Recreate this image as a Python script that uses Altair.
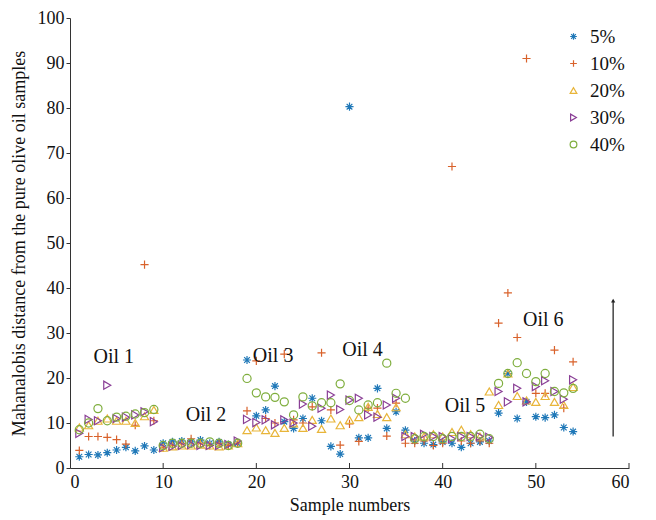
import altair as alt
import pandas as pd

samples = list(range(1, 55))
series_names = ["5%", "10%", "20%", "30%", "40%"]

v5 = [2.5, 3.0, 2.9, 3.4, 4.0, 4.6, 3.8, 4.9, 4.0,
      5.5, 5.8, 6.0, 5.8, 6.2, 5.5, 5.8, 5.2, 5.5,
      24.0, 11.6, 12.9, 18.2, 10.3, 8.8, 11.0, 15.5, 10.5,
      4.8, 3.1, 80.3, 6.7, 6.7, 17.7, 8.8, 12.5, 8.4,
      6.0, 5.5, 5.2, 5.8, 5.5, 4.6, 5.5, 5.8, 6.0,
      12.2, 21.0, 11.0, 14.7, 11.4, 11.2, 11.8, 9.0, 8.1]
v10 = [3.9, 7.0, 7.0, 6.8, 6.3, 5.3, 9.5, 45.2, 10.5,
       4.5, 5.0, 5.5, 6.5, 5.5, 5.0, 5.5, 5.0, 5.5,
       12.7, 23.8, 11.0, 10.0, 25.3, 10.7, 10.0, 13.6, 25.6,
       12.9, 5.1, 9.8, 5.9, 13.3, 13.3, 7.1, 14.4, 5.5,
       5.5, 6.0, 5.0, 5.5, 67.0, 6.0, 5.5, 6.0, 5.5,
       32.2, 38.9, 29.0, 91.0, 16.6, 16.6, 26.2, 13.3, 23.6]
v20 = [9.0, 9.5, 10.5, 11.0, 10.5, 10.5, 10.0, 11.5, 12.9,
       4.5, 4.8, 5.0, 5.0, 5.2, 5.0, 4.8, 5.0, 5.5,
       8.4, 9.0, 8.4, 7.8, 8.9, 9.9, 8.9, 10.7, 8.7,
       11.0, 9.5, 10.7, 11.3, 13.6, 12.0, 11.3, 13.5, 7.5,
       7.0, 7.0, 7.5, 7.0, 8.0, 8.5, 7.5, 7.0, 17.0,
       14.0, 21.0, 16.0, 15.0, 14.7, 16.0, 14.7, 14.0, 18.0]
v30 = [7.7, 10.8, 10.5, 18.4, 11.0, 11.3, 11.8, 12.5, 10.3,
       4.5, 4.8, 5.0, 5.2, 5.0, 5.0, 5.0, 5.2, 6.0,
       10.8, 10.1, 10.7, 9.6, 10.7, 10.0, 14.2, 9.3, 13.3,
       16.2, 13.0, 15.1, 15.5, 11.8, 11.3, 14.0, 15.5, 7.0,
       7.0, 7.5, 7.0, 7.0, 6.5, 7.0, 7.0, 7.0, 6.8,
       17.0, 14.7, 17.7, 14.7, 18.1, 19.4, 17.0, 15.3, 19.6]
v40 = [8.5, 10.0, 13.2, 10.5, 11.3, 11.5, 12.0, 12.3, 13.0,
       5.0, 5.5, 5.5, 5.5, 5.5, 5.8, 5.5, 5.0, 5.5,
       19.9, 16.7, 15.8, 15.7, 14.7, 11.8, 15.8, 13.8, 14.5,
       14.5, 18.7, 15.0, 12.9, 14.0, 14.5, 23.3, 16.6, 15.5,
       6.5, 7.0, 7.0, 6.5, 7.0, 7.0, 7.0, 7.5, 6.5,
       18.8, 21.0, 23.4, 21.0, 19.2, 21.0, 17.0, 16.7, 17.7]

oil_labels = ["Oil 1", "Oil 2", "Oil 3", "Oil 4", "Oil 5", "Oil 6"]
oil_label_x = [4.7, 14.6, 21.8, 31.4, 42.4, 50.8]
oil_label_y = [24.7, 11.8, 24.9, 26.2, 13.8, 32.9]

x_ticks = [10, 20, 30, 40, 50, 60]
y_ticks = [0, 10, 20, 30, 40, 50, 60, 70, 80, 90, 100]

arrow_x = [58.3]
arrow_y0 = [7.0]
arrow_y1 = [37.2]

colors = ["#1f78b8", "#d9622b", "#e8b53a", "#8a3f96", "#7fae3e"]
asterisk = "M-1,0L1,0M0,-1L0,1M-0.7,-0.7L0.7,0.7M-0.7,0.7L0.7,-0.7"
plus = "M-1,0L1,0M0,-1L0,1"
shapes = [asterisk, plus, "triangle-up", "triangle-right", "circle"]

FONT = "Liberation Serif"

rows = []
for name, vals in zip(series_names, [v5, v10, v20, v30, v40]):
    for s, v in zip(samples, vals):
        rows.append({"sample": s, "value": v, "series": name})
df = pd.DataFrame(rows)

xs = alt.Scale(domain=[0, 60], nice=False, zero=False)
ys = alt.Scale(domain=[0, 100], nice=False)

legend = alt.Legend(title=None, orient="none", legendX=494, legendY=9,
                    labelFont=FONT, labelFontSize=19, labelColor="#111",
                    symbolSize=45, symbolStrokeWidth=1.2, rowPadding=7,
                    labelOffset=7)

points = alt.Chart(df).mark_point(filled=False, strokeWidth=1.2, size=66, opacity=1).encode(
    x=alt.X("sample:Q", scale=xs,
            axis=alt.Axis(values=x_ticks + [0], title="Sample numbers", grid=False, ticks=False,
                          labelFont=FONT, labelFontSize=18, titleFont=FONT, titleFontSize=18,
                          titleFontWeight="normal", labelColor="#111", titleColor="#111",
                          domainColor="#333", labelPadding=5, titlePadding=5)),
    y=alt.Y("value:Q", scale=ys,
            axis=alt.Axis(values=y_ticks, title="Mahanalobis distance from the pure olive oil samples",
                          grid=False, tickSize=4, tickColor="#333", labelFont=FONT, labelFontSize=18,
                          titleFont=FONT, titleFontSize=18, titleFontWeight="normal",
                          labelColor="#111", titleColor="#111", domainColor="#333",
                          labelPadding=2, titlePadding=9)),
    color=alt.Color("series:N", scale=alt.Scale(domain=series_names, range=colors), legend=legend,
                    sort=series_names),
    shape=alt.Shape("series:N", scale=alt.Scale(domain=series_names, range=shapes), legend=legend,
                    sort=series_names),
)

tick_df = pd.DataFrame({"t": x_ticks})
xticks = alt.Chart(tick_df).mark_rule(color="#333", strokeWidth=1).encode(
    x=alt.X("t:Q", scale=xs),
    y=alt.value(450),
    y2=alt.value(445),
)

lab_df = pd.DataFrame({"label": oil_labels, "x": oil_label_x, "y": oil_label_y})
labels = alt.Chart(lab_df).mark_text(font=FONT, fontSize=20, color="#111").encode(
    x=alt.X("x:Q", scale=xs), y=alt.Y("y:Q", scale=ys), text="label:N")

arr_df = pd.DataFrame({"x": arrow_x, "y0": arrow_y0, "y1": arrow_y1})
arrow = alt.Chart(arr_df).mark_rule(color="#444", strokeWidth=1.5).encode(
    x=alt.X("x:Q", scale=xs), y=alt.Y("y0:Q", scale=ys), y2="y1:Q")
head = alt.Chart(arr_df).mark_point(shape="triangle-up", filled=True, size=18, color="#222", opacity=1).encode(
    x=alt.X("x:Q", scale=xs), y=alt.Y("y1:Q", scale=ys))

chart = alt.layer(points, xticks, labels, arrow, head).properties(
    width=559, height=450,
    autosize=alt.AutoSizeParams(type="none"),
    padding={"left": 70, "top": 18, "right": 27, "bottom": 52},
    background="white",
).configure_view(stroke=None)

chart.save("out.html", embed_options={"renderer": "svg", "actions": False})
